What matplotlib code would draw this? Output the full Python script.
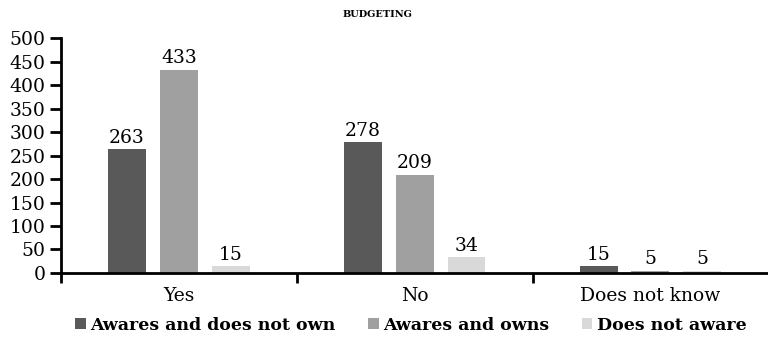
import numpy as np
from matplotlib import pyplot as plt

categories = ["Yes", "No", "Does not know"]
series_names = ["Awares and does not own", "Awares and owns", "Does not aware"]
not_own = [263, 278, 15]
owns = [433, 209, 5]
not_aware = [15, 34, 5]
colors = ["#595959", "#a0a0a0", "#d9d9d9"]

plt.rcParams['font.family'] = ['DejaVu Serif']

fig = plt.figure(figsize=(7.68, 3.44), dpi=100)
ax = fig.add_axes([0.0794, 0.2064, 0.921, 0.6831])

x = np.arange(len(categories))
width = 0.161
offsets = [-0.22, 0, 0.22]
for vals, off, c, name in zip([not_own, owns, not_aware], offsets, colors, series_names):
    bars = ax.bar(x + off, vals, width, color=c, label=name)
    for b, v in zip(bars, vals):
        ax.text(b.get_x() + b.get_width() / 2, v + 5, str(v), ha='center', va='bottom', fontsize=13.5)

ax.set_xlim(-0.5, 2.5)
ax.set_ylim(0, 500)
ax.set_yticks(range(0, 501, 50))
ax.set_xticks(x)
ax.set_xticklabels(categories, fontsize=13.5)
ax.set_xticks([-0.5, 0.5, 1.5], minor=True)
ax.tick_params(axis='x', which='major', length=0, pad=10)
ax.tick_params(axis='x', which='minor', length=7, width=2, direction='out')
ax.tick_params(axis='y', length=8, width=2, labelsize=13.5, pad=3)
for s in ['top', 'right']:
    ax.spines[s].set_visible(False)
ax.spines['left'].set_linewidth(2)
ax.spines['bottom'].set_linewidth(2)

fig.text(0.492, 0.957, "BUDGETING", ha='center', va='center', fontsize=7, fontweight='bold')

leg = fig.legend(loc='center', bbox_to_anchor=(0.535, 0.055), ncol=3, frameon=False,
                 prop={'weight': 'bold', 'size': 12.5}, handlelength=0.6, handleheight=0.6,
                 handletextpad=0.25, columnspacing=1.9)

fig.savefig("out.png", dpi=100)
